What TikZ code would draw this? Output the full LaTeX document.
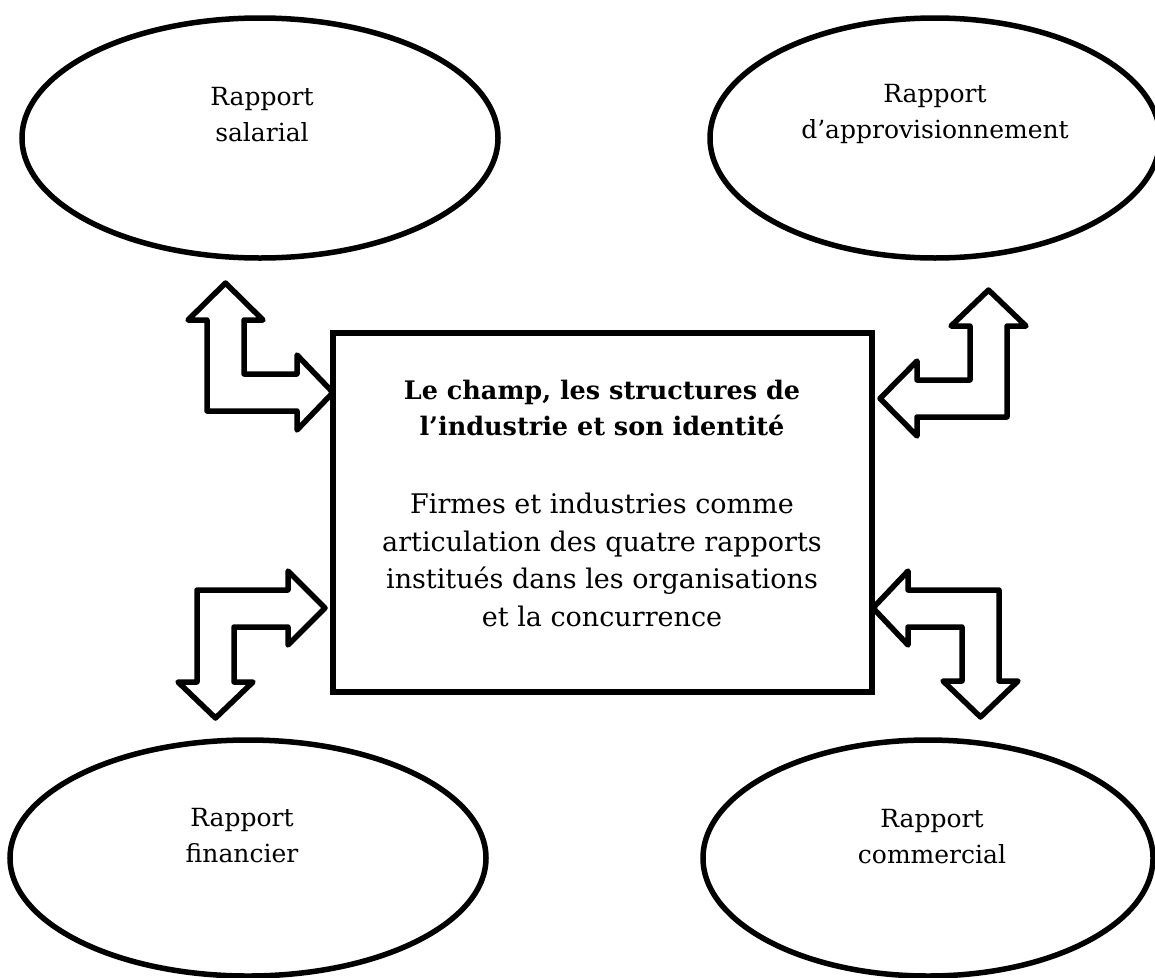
\documentclass[tikz,border=0pt]{standalone}
\usepackage{fontspec}
\setmainfont{DejaVu Serif}
\usetikzlibrary{shapes.geometric}
\tikzset{
  oval/.style 2 args={ellipse, draw=black, line width=5.5pt, minimum width=#1, minimum height=#2, inner sep=0pt},
  otext/.style={font=\fontsize{25}{36}\selectfont, align=center, inner sep=0pt},
  ttext/.style={font=\bfseries\fontsize{25.5}{36}\selectfont, align=center, inner sep=0pt},
  btext/.style={font=\fontsize{27}{37.5}\selectfont, align=center, inner sep=0pt},
  mainbox/.style={draw=black, line width=5.5pt, minimum width=539pt, minimum height=359pt, inner sep=0pt},
  blockarrow/.style={draw=black, fill=white, line width=5.5pt, line join=round}
}
\begin{document}
\begin{tikzpicture}[x=1pt,y=-1pt]
\useasboundingbox (0,0) rectangle (1155,977);
\clip (0,0) rectangle (1155,977);
% ellipses
\node[oval={476pt}{240pt}] (sal) at (260,138) {};
\node[otext] (salt) at (262,115) {Rapport\\salarial};
\node[oval={450pt}{240pt}] (app) at (935,138) {};
\node[otext] (appt) at (935,114) {Rapport\\d’approvisionnement};
\node[oval={476pt}{236pt}] (fin) at (248,858) {};
\node[otext] (fint) at (242,836) {Rapport\\financier};
\node[oval={450pt}{236pt}] (com) at (928,858) {};
\node[otext] (comt) at (932,837) {Rapport\\commercial};
% central box
\node[mainbox] (box) at (602.5,512.5) {};
\node[ttext] (title) at (602,408) {Le champ, les structures de\\l’industrie et son identité};
\node[btext] (body) at (602,560) {Firmes et industries comme\\articulation des quatre rapports\\institués dans les organisations\\et la concurrence};
% block arrows
\draw[blockarrow] (225.5,283) -- (263,320) -- (244,320) -- (244,374) -- (297,374) -- (297,355)
  -- (333,392.5) -- (297,430) -- (297,411) -- (207,411) -- (207,320) -- (188,320) -- cycle;
\draw[blockarrow] (988.5,290) -- (1026,326) -- (1007,326) -- (1007,417) -- (917,417) -- (917,436)
  -- (880,398.5) -- (917,361) -- (917,380) -- (970,380) -- (970,326) -- (951,326) -- cycle;
\draw[blockarrow] (325,608) -- (288,645) -- (288,627) -- (234,627) -- (234,682) -- (253,682)
  -- (215.5,718) -- (178,682) -- (197,682) -- (197,590) -- (288,590) -- (288,571) -- cycle;
\draw[blockarrow] (873,608) -- (908,571) -- (908,590) -- (999,590) -- (999,681) -- (1018,681)
  -- (980.5,717) -- (943,681) -- (962,681) -- (962,627) -- (908,627) -- (908,645) -- cycle;
\end{tikzpicture}
\end{document}
